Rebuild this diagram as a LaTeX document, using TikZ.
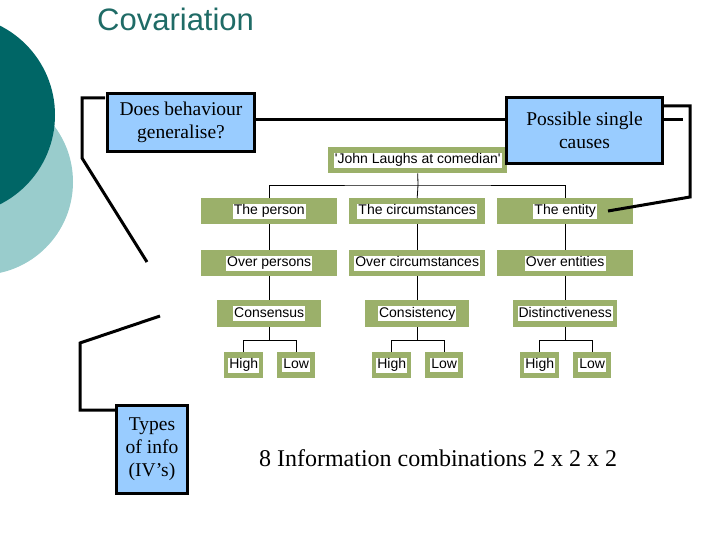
\documentclass[tikz,border=0pt]{standalone}
\usepackage{fontspec}
\usetikzlibrary{calc}
\setmainfont{Liberation Serif}
\newfontfamily\sans{Liberation Sans}
\begin{document}
\begin{tikzpicture}[x=1pt,y=-1pt,
  gbox/.style={draw=none,fill=gr,anchor=north west,inner sep=0pt,font=\sans\fontsize{14}{14}\selectfont},
  bbox/.style={draw=black,line width=3pt,fill=bl,anchor=north west,inner sep=0pt,align=center,font=\fontsize{19.5}{23}\selectfont},
  tl/.style={draw=black,line width=0.8pt},
  br/.style={draw=black,line width=3pt}]
\definecolor{gr}{HTML}{9BB06A}
\definecolor{bl}{HTML}{99CCFF}
\definecolor{dt}{HTML}{006666}
\definecolor{lt}{HTML}{99CCCC}
\definecolor{tt}{HTML}{1F6B66}
\useasboundingbox (0,0) rectangle (720,540);
\fill[lt] (-20,182) circle (93);
\fill[dt] (-45,115) circle (100);
\node[anchor=base west,text=tt,align=left,font=\sans\fontsize{31}{39}\selectfont,inner sep=0pt] (title) at (97,31) {Analysis of Variance Model of\\Covariation};
\setlength{\fboxsep}{1pt}
\newcommand{\gl}[1]{\colorbox{white}{\vphantom{Hg}#1}}
% tree nodes
\node[gbox,minimum width=179,minimum height=26] (john) at (328,147) {\gl{'John Laughs at comedian'}};
\foreach \n/\t/\x in {p/The person/201,c/The circumstances/349,e/The entity/497}
  \node[gbox,minimum width=136,minimum height=26] (\n1) at (\x,198) {\gl{\t}};
\foreach \n/\t/\x in {p/Over persons/201,c/Over circumstances/349,e/Over entities/497}
  \node[gbox,minimum width=136,minimum height=26] (\n2) at (\x,250) {\gl{\t}};
\foreach \n/\t/\x in {p/Consensus/217,c/Consistency/365,e/Distinctiveness/513}
  \node[gbox,minimum width=104,minimum height=27] (\n3) at (\x,300) {\gl{\t}};
\foreach \n/\x in {p/224,c/372,e/520}{
  \node[gbox,minimum width=39,minimum height=26] (\n h) at (\x,352) {\gl{High}};
  \node[gbox,minimum width=38,minimum height=26] (\n l) at (\x+53,352) {\gl{Low}};
}
% tree lines
\coordinate (j) at (418,185);
\draw[tl] (john.south) -- (j);
\draw[tl] (p1.north) |- (j) -| (e1.north);
\draw[tl] (j) -- (c1.north);
\foreach \n in {p,c,e}{
  \draw[tl] (\n1) -- (\n2);
  \draw[tl] (\n2) -- (\n3);
  \coordinate (\n m) at ($(\n3.south)+(0,13)$);
  \draw[tl] (\n3.south) -- (\n m);
  \draw[tl] (\n h.north) |- (\n m) -| (\n l.north);
}
% callouts
\node[bbox,minimum width=147,minimum height=58] (dbg) at (106,92) {Does behaviour\\generalise?};
\node[bbox,minimum width=156,minimum height=66] (psc) at (505,96) {Possible single\\causes};
\node[bbox,minimum width=71,minimum height=88] (toi) at (115,404) {Types\\of info\\(IV’s)};
\node[font=\fontsize{24}{26}\selectfont] (comb) at (438,458) {8 Information combinations 2 x 2 x 2};
\draw[br] (dbg.east |- 0,120) -- (psc.west |- 0,120);
\coordinate (r0) at (683,120);
\draw[br] (psc.east |- r0) -- (r0);
\coordinate (a1) at (663,106); \coordinate (a2) at (690,106); \coordinate (a3) at (690,197); \coordinate (a4) at (608,211);
\draw[br] (a1) -- (a2) -- (a3) -- (a4);
\coordinate (b1) at (105,98); \coordinate (b2) at (82,98); \coordinate (b3) at (82,158); \coordinate (b4) at (147,262);
\draw[br] (b1) -- (b2) -- (b3) -- (b4);
\coordinate (c1a) at (160,316); \coordinate (c2a) at (80,343); \coordinate (c3a) at (80,410);
\draw[br] (c1a) -- (c2a) -- (c3a) -- (toi.west |- c3a);
\end{tikzpicture}
\end{document}
